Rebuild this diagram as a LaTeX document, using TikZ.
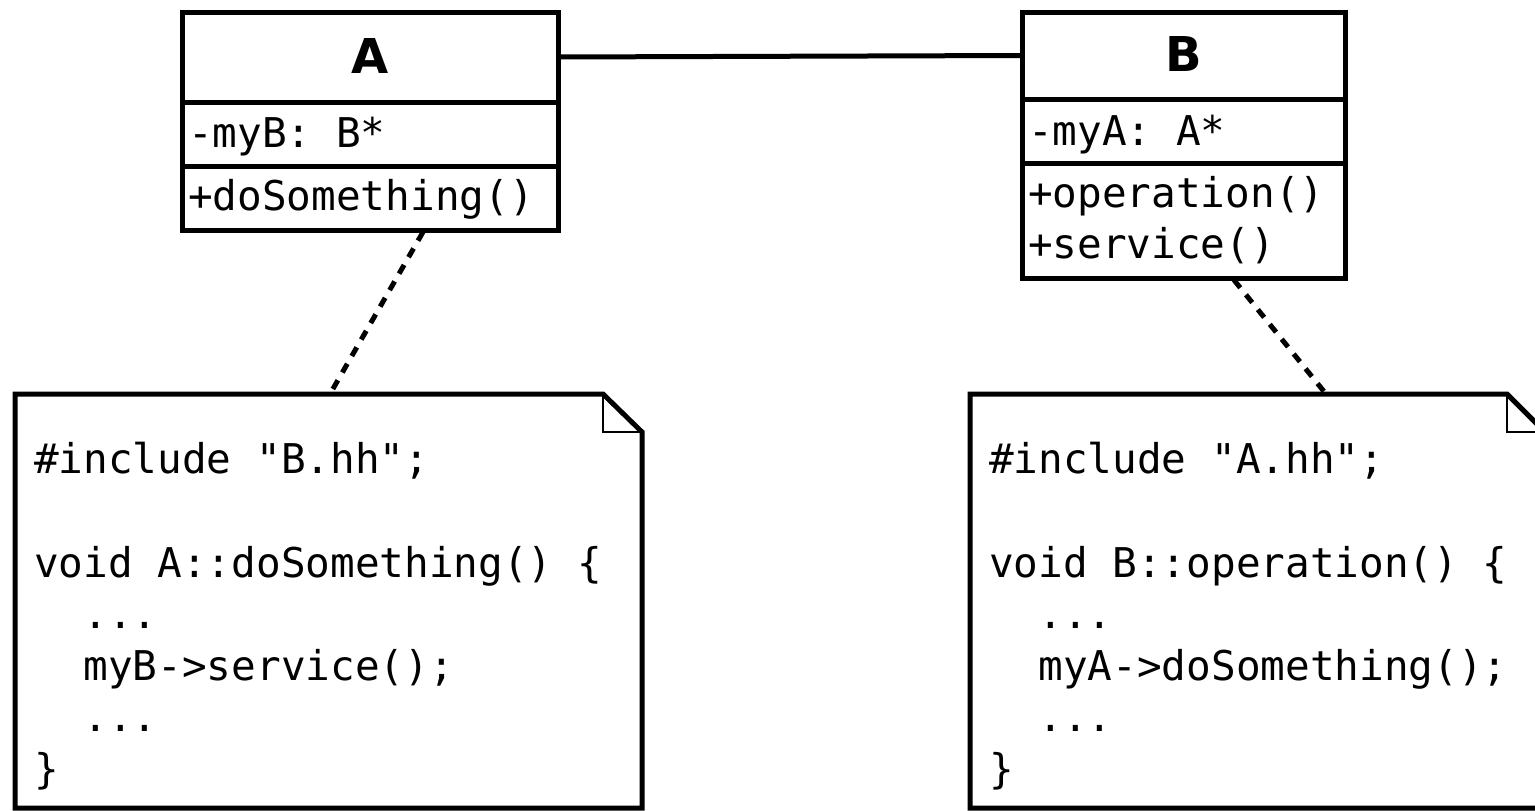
\documentclass[tikz,border=0pt]{standalone}
\usepackage{fontspec}
\setmainfont{DejaVu Sans}
\newfontfamily\codefont{DejaVu Sans Mono}
\newfontfamily\titlefont{DejaVu Sans}
\begin{document}
\begin{tikzpicture}[x=1pt,y=-1pt,
  cls/.style={draw=black, line width=5pt, fill=white, rectangle, inner sep=0pt, outer sep=0pt},
  ttl/.style={font=\titlefont\bfseries\fontsize{48}{56}\selectfont, inner sep=0pt, anchor=base},
  code/.style={font=\codefont\fontsize{41}{52}\selectfont, inner sep=0pt, anchor=base west},
  noteline/.style={draw=black, line width=5pt},
  foldline/.style={draw=black, line width=2.5pt},
  assoc/.style={draw=black, line width=5pt},
  dep/.style={draw=black, line width=5pt, dash pattern=on 10pt off 9pt}
]
\useasboundingbox (0,0) rectangle (1535,811);
\fill[white] (0,0) rectangle (1535,811);

% Class A
\node[cls, minimum width=376pt, minimum height=90pt] (Atop) at (370,57) {};
\node[cls, minimum width=376pt, minimum height=64pt] (Aattr) at (370,134) {};
\node[cls, minimum width=376pt, minimum height=64pt] (Aops) at (370,198) {};
\node[ttl] (Atitle) at (370,73) {A};
\node[code] (Aa1) at (188,147) {-myB: B*};
\node[code] (Ao1) at (188,210) {+doSomething()};

% Class B
\node[cls, minimum width=323pt, minimum height=87pt] (Btop) at (1183.5,55.5) {};
\node[cls, minimum width=323pt, minimum height=64pt] (Battr) at (1183.5,131) {};
\node[cls, minimum width=323pt, minimum height=115pt] (Bops) at (1183.5,220.5) {};
\node[ttl] (Btitle) at (1183.5,71) {B};
\node[code] (Ba1) at (1028,145) {-myA: A*};
\node[code] (Bo1) at (1028,207) {+operation()};
\node[code] (Bo2) at (1028,258) {+service()};

% association
\draw[assoc] (Atop.east) -- (Btop.west);

% Note A
\draw[noteline] (15,394) -- (603,394) -- (642,432) -- (642,808) -- (15,808) -- cycle;
\draw[foldline] (603,394) -- (603,432) -- (642,432);
\node[code] (nA1) at (34,473) {\#include "B.hh";};
\node[code] (nA2) at (34,577) {void A::doSomething() \{};
\node[code] (nA3) at (34,628) {\ \ ...};
\node[code] (nA4) at (34,680) {\ \ myB->service();};
\node[code] (nA5) at (34,731) {\ \ ...};
\node[code] (nA6) at (34,783) {\}};

% Note B
\draw[noteline] (970,394) -- (1507,394) -- (1545,432) -- (1545,808) -- (970,808) -- cycle;
\draw[foldline] (1507,394) -- (1507,432) -- (1545,432);
\node[code] (nB1) at (989,473) {\#include "A.hh";};
\node[code] (nB2) at (989,577) {void B::operation() \{};
\node[code] (nB3) at (989,628) {\ \ ...};
\node[code] (nB4) at (989,680) {\ \ myA->doSomething();};
\node[code] (nB5) at (989,731) {\ \ ...};
\node[code] (nB6) at (989,783) {\}};

% dependency (note anchors)
\coordinate (tA) at (423,232);
\coordinate (hA) at (330,394);
\coordinate (tB) at (1234,280);
\coordinate (hB) at (1326,394);
\draw[dep] (tA) -- (hA);
\draw[dep] (tB) -- (hB);
\end{tikzpicture}
\end{document}
